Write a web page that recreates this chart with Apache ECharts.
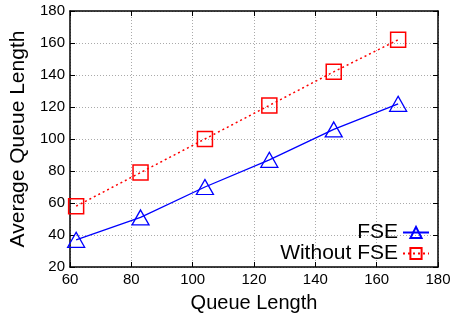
<!DOCTYPE html>
<html><head><meta charset="utf-8">
<script src="https://cdn.jsdelivr.net/npm/echarts@6/dist/echarts.min.js"></script>
<style>html,body{margin:0;padding:0;background:#fff}#c{width:456px;height:320px}</style>
</head><body><div id="c"></div>
<script>
var queueLength = [62, 83, 104, 125, 146, 167];
var fseValues = [37, 51, 70, 87, 106, 122];
var withoutFseValues = [58, 79, 100, 121, 142, 162];
var seriesNames = ['FSE', 'Without FSE'];
var xTicks = [60, 80, 100, 120, 140, 160, 180];
var yTicks = [20, 40, 60, 80, 100, 120, 140, 160, 180];

function pairs(xs, ys){ return xs.map(function(x,i){return [x, ys[i]];}); }
var font = 'Liberation Sans, Arial, sans-serif';
var chart = echarts.init(document.getElementById('c'));
var gridLine = {show:true, lineStyle:{color:'#aaa', type:[1,2], width:1}};
chart.setOption({
  animation:false,
  textStyle:{fontFamily:font},
  grid:{left:70, right:18, top:11, bottom:53, show:false},
  xAxis:[{
    type:'value', min:xTicks[0], max:xTicks[xTicks.length-1], interval:20,
    name:'Queue Length', nameLocation:'middle', nameGap:26,
    nameTextStyle:{fontSize:20, color:'#000', fontFamily:font},
    axisLine:{lineStyle:{color:'#000', width:1.5}},
    axisTick:{inside:true, length:5, lineStyle:{color:'#000'}},
    axisLabel:{fontSize:15, color:'#000', margin:5, fontFamily:font},
    splitLine:gridLine
  },{
    type:'value', position:'top', min:xTicks[0], max:xTicks[xTicks.length-1], interval:20,
    axisLine:{show:true, lineStyle:{color:'#000', width:1.5}},
    axisTick:{inside:true, length:5, lineStyle:{color:'#000'}},
    axisLabel:{show:false}, splitLine:{show:false}
  }],
  yAxis:[{
    type:'value', min:yTicks[0], max:yTicks[yTicks.length-1], interval:20,
    name:'Average Queue Length', nameLocation:'middle', nameGap:37,
    nameTextStyle:{fontSize:21, color:'#000', fontFamily:font},
    axisLine:{show:true, lineStyle:{color:'#000', width:1.5}},
    axisTick:{show:true, inside:true, length:5, lineStyle:{color:'#000'}},
    axisLabel:{fontSize:15, color:'#000', margin:5, fontFamily:font},
    splitLine:gridLine
  },{
    type:'value', position:'right', min:yTicks[0], max:yTicks[yTicks.length-1], interval:20,
    axisLine:{show:true, lineStyle:{color:'#000', width:1.5}},
    axisTick:{show:true, inside:true, length:5, lineStyle:{color:'#000'}},
    axisLabel:{show:false}, splitLine:{show:false}
  }],
  legend:{
    orient:'vertical', right:26, bottom:56, align:'right', itemGap:0,
    itemWidth:26, itemHeight:14, padding:0,
    textStyle:{fontSize:21, lineHeight:19, color:'#000', fontFamily:font, padding:[0,0,0,0]},
    data:seriesNames
  },
  series:[{
    name:seriesNames[0], type:'line', data:pairs(queueLength, fseValues),
    symbol:'triangle', symbolSize:[17,15],
    lineStyle:{color:'#0000ff', width:1.3, type:'solid'},
    itemStyle:{color:'rgba(255,255,255,0)', borderColor:'#0000ff', borderWidth:1.3}
  },{
    name:seriesNames[1], type:'line', data:pairs(queueLength, withoutFseValues),
    symbol:'rect', symbolSize:15,
    lineStyle:{color:'#ff0000', width:1.5, type:[2,3]},
    itemStyle:{color:'rgba(255,255,255,0)', borderColor:'#ff0000', borderWidth:1.5}
  }]
});
</script></body></html>
